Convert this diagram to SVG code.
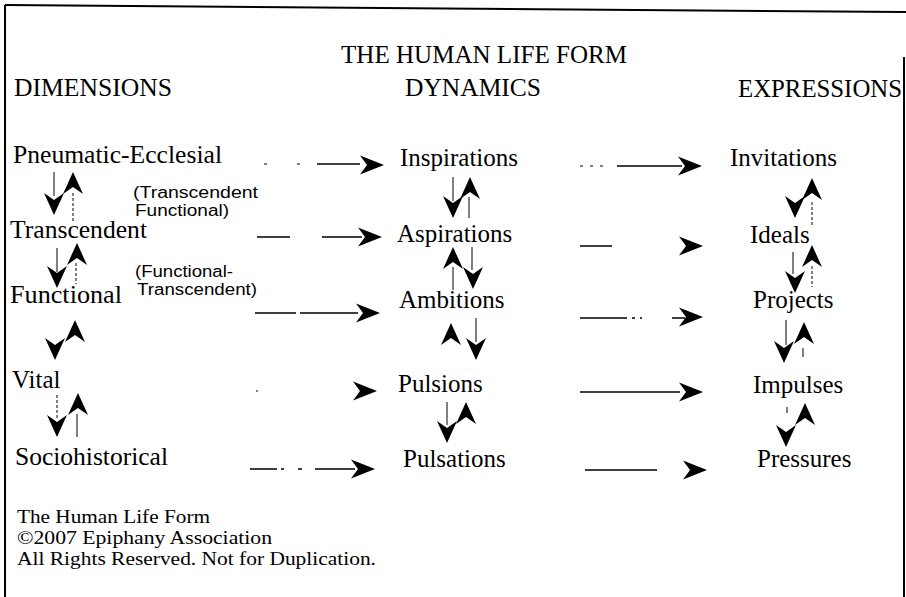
<svg xmlns="http://www.w3.org/2000/svg" xmlns:xlink="http://www.w3.org/1999/xlink" width="906" height="597" viewBox="0 0 906 597">
<style>
.t{font-family:"Liberation Serif","Times New Roman",serif;font-size:25px;fill:#000}
.s{font-family:"Liberation Sans",Arial,sans-serif;font-size:16px;fill:#000}
.f{font-family:"Liberation Serif","Times New Roman",serif;font-size:19px;fill:#000}
.ln{stroke:#000;stroke-width:1.5;fill:none}
.th{stroke:#000;stroke-width:1;fill:none}
.ds{stroke:#000;stroke-width:1;fill:none;stroke-dasharray:3 2}
.bd{stroke:#000;stroke-width:2;fill:none}
</style>
<defs>
<path id="hr" d="M0,0 L-24,-9.5 L-17,0 L-24,9.5 Z" fill="#000"/>
<path id="dn" d="M0,0 L-10,-22 L0,-15 L10,-22 Z" fill="#000"/>
<path id="up" d="M0,0 L-10,22 L0,15 L10,22 Z" fill="#000"/>
</defs>
<rect width="906" height="597" fill="#fff"/>
<g id="border">
<path class="bd" d="M5,5 L906,12"/>
<path class="bd" d="M5,5 L5,597"/>
<path class="bd" d="M904,57 L904,597"/>
</g>
<g id="title"><text class="t" x="341" y="63" textLength="286" lengthAdjust="spacingAndGlyphs">THE HUMAN LIFE FORM</text></g>
<g id="h-dimensions"><text class="t" x="14" y="96" textLength="158" lengthAdjust="spacingAndGlyphs">DIMENSIONS</text></g>
<g id="h-dynamics"><text class="t" x="405" y="96" textLength="136" lengthAdjust="spacingAndGlyphs">DYNAMICS</text></g>
<g id="h-expressions"><text class="t" x="738" y="97" textLength="164" lengthAdjust="spacingAndGlyphs">EXPRESSIONS</text></g>

<g id="n-pneumatic"><text class="t" x="13" y="163" textLength="209" lengthAdjust="spacingAndGlyphs">Pneumatic-Ecclesial</text></g>
<g id="n-transcendent"><text class="t" x="10" y="238" textLength="137" lengthAdjust="spacingAndGlyphs">Transcendent</text></g>
<g id="n-functional"><text class="t" x="10" y="303" textLength="112" lengthAdjust="spacingAndGlyphs">Functional</text></g>
<g id="n-vital"><text class="t" x="12" y="388">Vital</text></g>
<g id="n-sociohistorical"><text class="t" x="15" y="465" textLength="153" lengthAdjust="spacingAndGlyphs">Sociohistorical</text></g>

<g id="lbl-tf"><text class="s" x="133" y="198" textLength="125" lengthAdjust="spacingAndGlyphs">(Transcendent</text><text class="s" x="135" y="216" textLength="94" lengthAdjust="spacingAndGlyphs">Functional)</text></g>
<g id="lbl-ft"><text class="s" x="135" y="277" textLength="98" lengthAdjust="spacingAndGlyphs">(Functional-</text><text class="s" x="137" y="295" textLength="120" lengthAdjust="spacingAndGlyphs">Transcendent)</text></g>

<g id="n-inspirations"><text class="t" x="400" y="166">Inspirations</text></g>
<g id="n-aspirations"><text class="t" x="397" y="242">Aspirations</text></g>
<g id="n-ambitions"><text class="t" x="399" y="308">Ambitions</text></g>
<g id="n-pulsions"><text class="t" x="398" y="392">Pulsions</text></g>
<g id="n-pulsations"><text class="t" x="403" y="467">Pulsations</text></g>

<g id="n-invitations"><text class="t" x="730" y="166">Invitations</text></g>
<g id="n-ideals"><text class="t" x="750" y="243">Ideals</text></g>
<g id="n-projects"><text class="t" x="753" y="308">Projects</text></g>
<g id="n-impulses"><text class="t" x="753" y="393">Impulses</text></g>
<g id="n-pressures"><text class="t" x="757" y="467">Pressures</text></g>

<g id="footer">
<text class="f" x="17" y="523" textLength="193" lengthAdjust="spacingAndGlyphs">The Human Life Form</text>
<text class="f" x="17" y="544" textLength="255" lengthAdjust="spacingAndGlyphs">©2007 Epiphany Association</text>
<text class="f" x="17" y="565" textLength="359" lengthAdjust="spacingAndGlyphs">All Rights Reserved. Not for Duplication.</text>
</g>

<g id="connectors">
<!-- horizontal, dimensions to dynamics -->
<path class="th" d="M264,164h3M297,164h3"/><path class="ln" d="M317,164H360"/><use xlink:href="#hr" transform="translate(384,165)"/>
<path class="ln" d="M257,237H290M322,237H362"/><use xlink:href="#hr" transform="translate(382,237)"/>
<path class="ln" d="M255,313H296M300,313H358"/><use xlink:href="#hr" transform="translate(380,313)"/>
<path class="th" d="M256,391h2"/><use xlink:href="#hr" transform="translate(377,391)"/>
<path class="ln" d="M250,469H277M281,469h3M298,469h4M315,469H355"/><use xlink:href="#hr" transform="translate(375,469)"/>
<!-- horizontal, dynamics to expressions -->
<path class="th" d="M580,166h3M590,166h3M600,166h3"/><path class="ln" d="M617,166H682"/><use xlink:href="#hr" transform="translate(702,166)"/>
<path class="ln" d="M580,246H612"/><use xlink:href="#hr" transform="translate(703,246)"/>
<path class="ln" d="M580,318H627M632,318h3M640,318h2M672,318H685"/><use xlink:href="#hr" transform="translate(703,317)"/>
<path class="ln" d="M580,392H680"/><use xlink:href="#hr" transform="translate(703,392)"/>
<path class="ln" d="M585,470H657"/><use xlink:href="#hr" transform="translate(707,470)"/>

<!-- vertical, dimensions column -->
<path class="th" d="M54,172V196"/><use xlink:href="#dn" transform="translate(54,215)"/>
<use xlink:href="#up" transform="translate(73,172)"/><path class="ds" d="M73,193V222"/>
<path class="th" d="M57,248V272"/><use xlink:href="#dn" transform="translate(57,288)"/>
<use xlink:href="#up" transform="translate(77,243)"/><path class="ds" d="M76,263V284"/>
<use xlink:href="#dn" transform="translate(55,360)"/>
<use xlink:href="#up" transform="translate(75,320)"/>
<path class="ds" d="M57,395V420"/><use xlink:href="#dn" transform="translate(57,437)"/>
<use xlink:href="#up" transform="translate(78,393)"/><path class="th" d="M77,414V437"/>

<!-- vertical, dynamics column -->
<path class="th" d="M453,177V201"/><use xlink:href="#dn" transform="translate(453,218)"/>
<use xlink:href="#up" transform="translate(470,177)"/><path class="th" d="M469,197V218"/>
<use xlink:href="#up" transform="translate(453,247)"/><path class="th" d="M453,267V290"/>
<path class="th" d="M472,247V270"/><use xlink:href="#dn" transform="translate(473,289)"/>
<use xlink:href="#up" transform="translate(451,323)"/>
<path class="th" d="M476,318V342"/><use xlink:href="#dn" transform="translate(476,360)"/>
<path class="th" d="M447,402V425"/><use xlink:href="#dn" transform="translate(447,443)"/>
<use xlink:href="#up" transform="translate(466,402)"/>

<!-- vertical, expressions column -->
<use xlink:href="#up" transform="translate(812,178)"/><path class="ds" d="M812,202V225"/>
<use xlink:href="#dn" transform="translate(795,218)"/>
<path class="th" d="M793,252V274"/><use xlink:href="#dn" transform="translate(795,293)"/>
<use xlink:href="#up" transform="translate(812,245)"/><path class="ds" d="M812,266V287"/>
<path class="th" d="M786,320V345"/><use xlink:href="#dn" transform="translate(784,363)"/>
<use xlink:href="#up" transform="translate(804,322)"/><path class="th" d="M803,348V357"/>
<use xlink:href="#up" transform="translate(805,403)"/>
<path class="th" d="M787,407V413"/>
<use xlink:href="#dn" transform="translate(786,447)"/>
</g>
</svg>
